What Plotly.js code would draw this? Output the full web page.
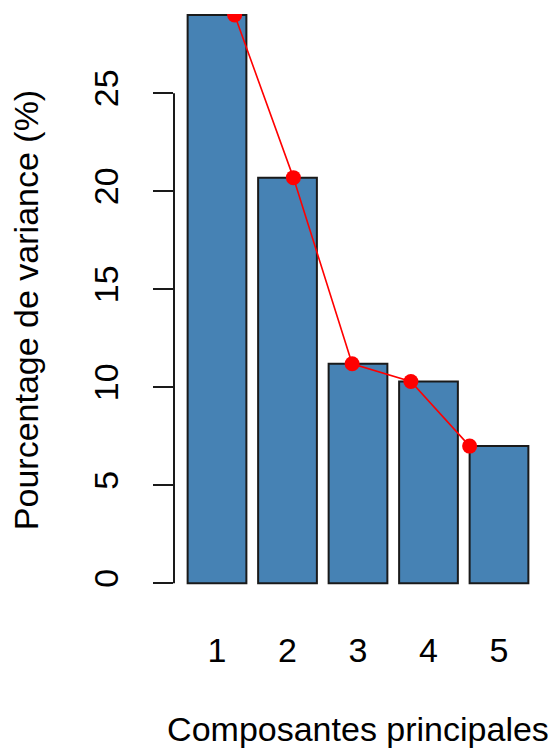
<!DOCTYPE html>
<html>
<head>
<meta charset="utf-8">
<script src="https://cdn.plot.ly/plotly-3.0.1.min.js"></script>
<style>html,body{margin:0;padding:0;background:#fff;}#chart{width:550px;height:755px;}</style>
</head>
<body>
<div id="chart"></div>
<script>
// Data
const components = [1, 2, 3, 4, 5];
const tickLabels = ["1", "2", "3", "4", "5"];
const variancePct = [29.0, 20.7, 11.2, 10.3, 7.0];
const yTicks = [0, 5, 10, 15, 20, 25];

// R barplot geometry: width 1, space 0.2
const barCenters = components.map((_, i) => 0.2 + 0.5 + i * 1.2);

const font = {family: "Liberation Sans, Arial, sans-serif", size: 34, color: "#000"};

const traces = [
  {
    type: "bar",
    x: barCenters,
    y: variancePct,
    width: 1,
    marker: {color: "#4682B4", line: {color: "#1a1a1a", width: 2}},
    hoverinfo: "none"
  },
  {
    type: "scatter",
    mode: "lines+markers",
    x: components,
    y: variancePct,
    line: {color: "#ff0000", width: 1.6},
    marker: {color: "#ff0000", size: 15},
    cliponaxis: true,
    hoverinfo: "none"
  }
];

const layout = {
  width: 550,
  height: 755,
  margin: {l: 174, r: 8, t: 14, b: 149},
  paper_bgcolor: "#fff",
  plot_bgcolor: "#fff",
  showlegend: false,
  font: font,
  xaxis: {
    range: [-0.032, 6.232],
    tickmode: "array",
    tickvals: barCenters,
    ticktext: tickLabels,
    ticks: "",
    showline: false,
    showgrid: false,
    zeroline: false,
    tickfont: font,
    ticklabelstandoff: 21,
    title: {text: "Composantes principales", font: font, standoff: 49},
    automargin: false
  },
  yaxis: {
    range: [-1.16, 29.05],
    tickmode: "array",
    tickvals: yTicks,
    ticktext: yTicks.map(String),
    ticks: "outside",
    ticklen: 20,
    tickwidth: 2,
    tickcolor: "#1a1a1a",
    tickangle: -90,
    showline: false,
    showgrid: false,
    zeroline: false,
    tickfont: font,
    ticklabelstandoff: 21,
    title: {text: "Pourcentage de variance (%)", font: font, standoff: 38},
    automargin: false
  },
  shapes: [
    {
      type: "line",
      xref: "paper", yref: "y",
      x0: 0, x1: 0, y0: yTicks[0], y1: yTicks[yTicks.length - 1],
      line: {color: "#1a1a1a", width: 2}
    }
  ]
};

Plotly.newPlot("chart", traces, layout, {staticPlot: true, displayModeBar: false});
</script>
</body>
</html>
